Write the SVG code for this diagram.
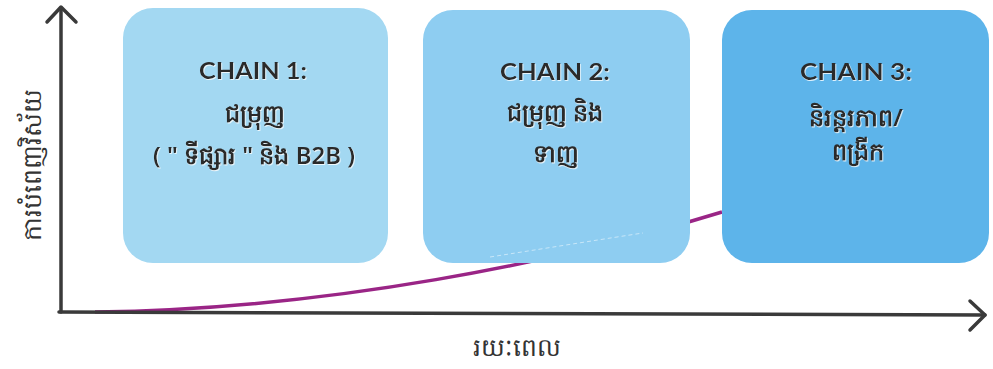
<svg xmlns="http://www.w3.org/2000/svg" width="993" height="369" viewBox="0 0 993 369">
<defs>
<style>
.box1{fill:#a3d8f2}
.box2{fill:#8ecdf1}
.box3{fill:#5db4ea}
.title{font-family:"Lato","Liberation Sans",sans-serif;font-weight:700;font-size:22px;fill:#2b2b2b;text-anchor:middle}
.km{font-family:"Noto Sans","DejaVu Sans",sans-serif;font-weight:600;font-size:24px;fill:#2b2b2b;text-anchor:middle}
.axislbl{font-family:"Noto Serif","DejaVu Serif",serif;font-size:25px;fill:#333;text-anchor:middle}
.axis{stroke:#3a3a3a;stroke-width:3.5;fill:none;stroke-linecap:round;stroke-linejoin:round}
</style>
<filter id="emb" x="-10%" y="-10%" width="120%" height="130%">
<feDropShadow dx="0.8" dy="1" stdDeviation="0.3" flood-color="#ffffff" flood-opacity="0.8"/>
</filter>
</defs>
<rect width="993" height="369" fill="#ffffff"/>
<g id="connectors">
<path d="M95,312 C330,309 560,262 722,212" fill="none" stroke="#9a2586" stroke-width="3.5"/>
<path class="axis" d="M61,312 L61,8"/>
<path class="axis" d="M47,22 L61,7 L76,22"/>
<path class="axis" d="M59,312 L985,315"/>
<path class="axis" d="M970,301 L985,315 L970,330"/>
</g>
<g id="chain1">
<rect class="box1" x="123" y="8" width="265" height="255" rx="30"/>
<text class="title" x="253" y="79" textLength="108" lengthAdjust="spacingAndGlyphs" filter="url(#emb)">CHAIN 1:</text>
<text class="km" x="255" y="122" filter="url(#emb)">ជម្រុញ</text>
<text class="km" x="254" y="164" filter="url(#emb)">( " ទីផ្សារ " និង B2B )</text>
</g>
<g id="chain2">
<rect class="box2" x="423" y="10" width="267" height="253" rx="30"/>
<path d="M490,257 C560,246 610,238 643,233" fill="none" stroke="#ffffff" stroke-opacity="0.5" stroke-width="1" stroke-dasharray="4 3"/>
<text class="title" x="555" y="80" textLength="110" lengthAdjust="spacingAndGlyphs" filter="url(#emb)">CHAIN 2:</text>
<text class="km" x="555" y="121" filter="url(#emb)">ជម្រុញ និង</text>
<text class="km" x="556" y="162" filter="url(#emb)">ទាញ</text>
</g>
<g id="chain3">
<rect class="box3" x="722" y="10" width="267" height="253" rx="30"/>
<text class="title" x="856" y="80" textLength="112" lengthAdjust="spacingAndGlyphs" filter="url(#emb)">CHAIN 3:</text>
<text class="km" x="856" y="126" filter="url(#emb)">និរន្តរភាព/</text>
<text class="km" x="858" y="160" filter="url(#emb)">ពង្រីក</text>
</g>
<g id="labels">
<text class="axislbl" transform="translate(41,165) rotate(-90)" x="0" y="0">ការបំពេញវិស័យ</text>
<text class="axislbl" x="517" y="356">រយៈពេល</text>
</g>
</svg>
